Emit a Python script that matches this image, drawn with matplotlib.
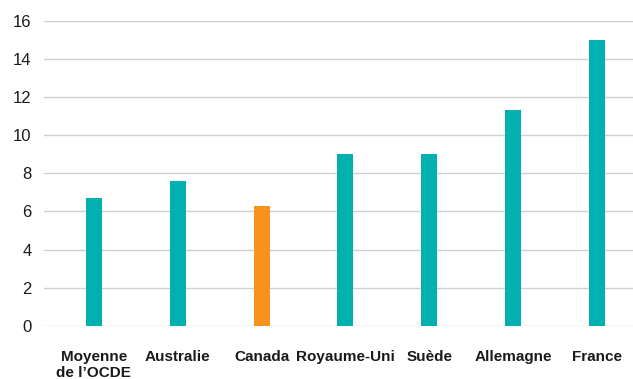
import matplotlib
matplotlib.use("Agg")
import matplotlib.pyplot as plt

categories = ["Moyenne\nde l\u2019OCDE", "Australie", "Canada", "Royaume-Uni", "Su\u00e8de", "Allemagne", "France"]
values = [6.7, 7.6, 6.3, 9.0, 9.0, 11.3, 15.0]
highlight = "Canada"
yticks = [0, 2, 4, 6, 8, 10, 12, 14, 16]

teal = "#00b1b0"
orange = "#f7921f"

plt.rcParams['font.family'] = ['Liberation Sans', 'DejaVu Sans']

fig = plt.figure(figsize=(6.33, 3.79), dpi=100)
ax = fig.add_axes([0.0695, 0.140, 0.9305, 0.8055])

x = list(range(len(categories)))
colors = [orange if c == highlight else teal for c in categories]
ax.bar(x, values, width=0.19, color=colors, zorder=3)

ax.set_ylim(0, 16)
ax.set_xlim(-0.595, 6.43)
ax.set_yticks(yticks)
ax.set_yticklabels([str(t) for t in yticks], fontsize=12, color="#1a1a1a")
ax.set_xticks(x)
ax.set_xticklabels(categories, fontsize=11, fontweight="bold", color="#1a1a1a",
                   linespacing=1.25, va="top")
ax.tick_params(axis="both", length=0)
ax.tick_params(axis="y", pad=9)
ax.tick_params(axis="x", pad=17)

ax.grid(axis="y", color="#cfcfcf", linewidth=1.0, zorder=0)
for s in ax.spines.values():
    s.set_visible(False)

fig.savefig("out.png", dpi=100, facecolor="white")
